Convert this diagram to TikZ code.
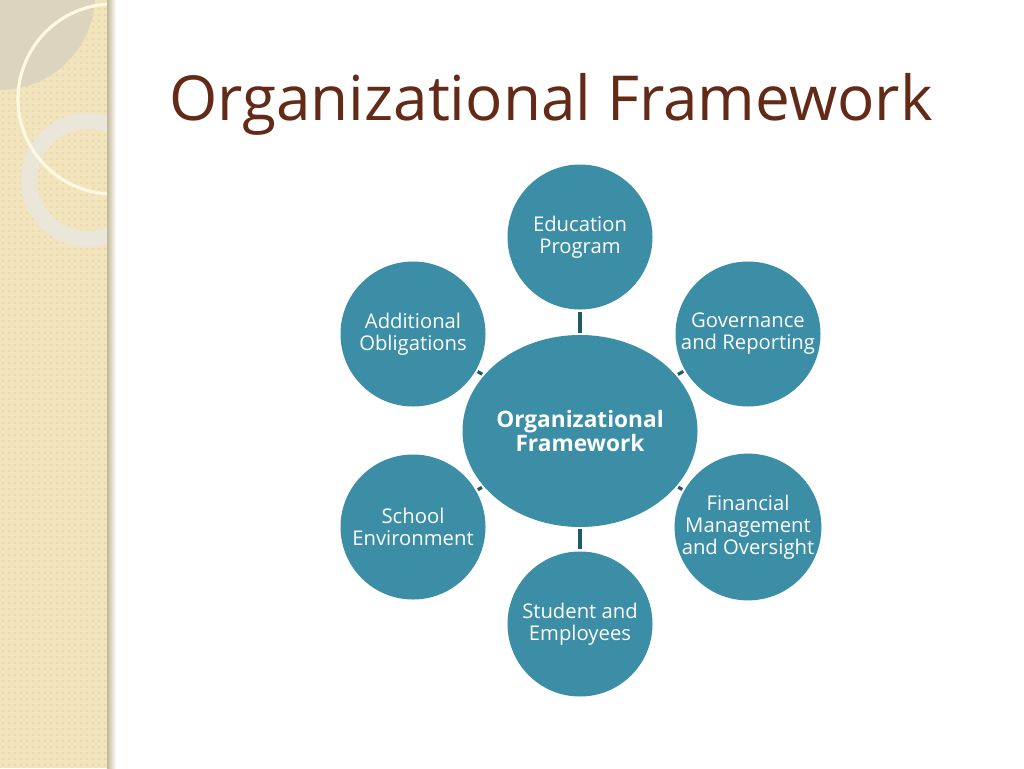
\documentclass[tikz,border=0pt]{standalone}
\usepackage{fontspec}
\setmainfont{Open Sans}
\usetikzlibrary{shapes.geometric}
\definecolor{tealfill}{HTML}{3B8EA5}
\definecolor{tealdark}{HTML}{1F5B6B}
\definecolor{titlecol}{HTML}{632A17}
\definecolor{stripbg}{HTML}{F2E5BE}
\definecolor{stripdot}{HTML}{E6D6A8}
\definecolor{greydisc}{HTML}{DDD4BE}
\definecolor{ringthin}{HTML}{FFF8E2}
\definecolor{ringthick}{HTML}{EAE6DA}
\tikzset{
  bubble/.style={circle, fill=tealfill, text=white, minimum size=108.75pt, inner sep=0pt,
    align=center, font=\fontsize{15.2}{16.5}\selectfont},
  hub/.style={ellipse, fill=tealfill, minimum width=176.25pt, minimum height=144pt, inner sep=0pt},
  hubtext/.style={text=white, align=center, inner sep=0pt, font=\fontsize{17}{17.3}\selectfont\bfseries},
  conn/.style={draw=tealdark, line width=2.4pt, shorten >=1.5pt, shorten <=1.5pt}
}
\begin{document}
\begin{tikzpicture}[x=0.75pt,y=-0.75pt]
\useasboundingbox (0,0) rectangle (1024,768);
\fill[white] (0,0) rectangle (1024,768);
% decorative left strip
\begin{scope}
  \clip (0,0) rectangle (111,768);
  \fill[stripbg] (0,0) rectangle (111,768);
  \foreach \i in {0,...,18} {
    \foreach \j in {0,...,128} {
      \fill[stripdot] (\i*6+3, \j*6+3) circle (1.1);
    }
  }
  \fill[greydisc] (0,-5) circle (95);
  \draw[ringthick, line width=12pt] (88,180) circle (59);
  \draw[ringthin, line width=2.4pt] (113,99) circle (95);
\end{scope}
\shade[left color=stripbg!80!black, right color=white] (107,0) rectangle (116,768);
% title
\node[font=\fontsize{46.5}{56}\selectfont, text=titlecol, anchor=base] (title) at (551,120) {Organizational Framework};
% nodes
\node[hub] (c) at (580,431) {};
\node[hubtext] (ct) at (c.center) {Organizational\\Framework};
\node[bubble] (n1) at (580,237) {Education\\Program};
\node[bubble] (n2) at (748,334) {Governance\\and Reporting};
\node[bubble] (n3) at (748,527) {Financial\\Management\\and Oversight};
\node[bubble] (n4) at (580,624) {Student and\\Employees};
\node[bubble] (n5) at (413,527) {School\\Environment};
\node[bubble] (n6) at (413,334) {Additional\\Obligations};
% connectors
\foreach \n in {n1,n2,n3,n4,n5,n6} {
  \draw[conn] (c) -- (\n);
}
\end{tikzpicture}
\end{document}
